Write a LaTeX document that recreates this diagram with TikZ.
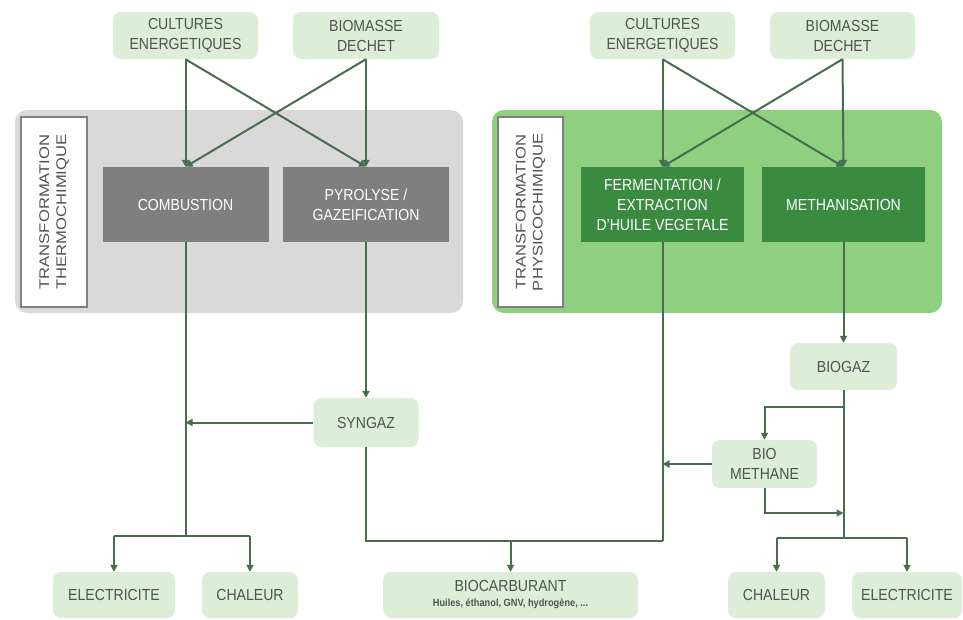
\documentclass[tikz,border=0pt]{standalone}
\usepackage{fontspec}
\setmainfont[FakeStretch=0.88]{Liberation Sans}
\usetikzlibrary{arrows.meta}
\definecolor{lightbox}{RGB}{221,238,216}
\definecolor{greypanel}{RGB}{217,217,217}
\definecolor{greybox}{RGB}{127,127,127}
\definecolor{greenpanel}{RGB}{143,208,128}
\definecolor{greenbox}{RGB}{58,138,64}
\definecolor{linecol}{RGB}{72,108,78}
\definecolor{txtcol}{RGB}{82,82,82}
\tikzset{
  x=1pt, y=-1pt,
  lbox/.style={fill=lightbox, rounded corners=8pt, inner sep=0pt, align=center,
    text=txtcol, font=\fontsize{16}{20}\selectfont},
  dgbox/.style={fill=greybox, inner sep=0pt, align=center, text=white,
    font=\fontsize{16}{20}\selectfont},
  dgreen/.style={fill=greenbox, inner sep=0pt, align=center, text=white,
    font=\fontsize{16}{20}\selectfont},
  lab/.style={fill=white, draw=greybox, line width=2pt, inner sep=0pt, align=center,
    text=txtcol, font=\fontsize{14}{18}\selectfont},
  conn/.style={draw=linecol, line width=2pt},
  arr/.style={conn, -{Triangle[length=7pt,width=7pt]}},
}
\begin{document}
\begin{tikzpicture}
\useasboundingbox (0,0) rectangle (963,619);
% panels
\fill[greypanel, rounded corners=12pt] (15,110) rectangle (463,313);
\fill[greenpanel, rounded corners=12pt] (492,110) rectangle (942,313);
\node[lab, minimum width=66pt, minimum height=190pt] (lab1) at (54,212)
  {\rotatebox{90}{\scalebox{1.35}[1]{\begin{tabular}{@{}c@{}}TRANSFORMATION\\[-1pt]THERMOCHIMIQUE\end{tabular}}}};
\node[lab, minimum width=65pt, minimum height=190pt] (lab2) at (530.5,212)
  {\rotatebox{90}{\scalebox{1.35}[1]{\begin{tabular}{@{}c@{}}TRANSFORMATION\\[-1pt]PHYSICOCHIMIQUE\end{tabular}}}};
% top sources
\node[lbox, minimum width=145pt, minimum height=47pt] (cul1) at (185.5,35.5) {CULTURES\\ENERGETIQUES};
\node[lbox, minimum width=146pt, minimum height=47pt] (bio1) at (366,35.5) {BIOMASSE\\DECHET};
\node[lbox, minimum width=145pt, minimum height=47pt] (cul2) at (662.5,35.5) {CULTURES\\ENERGETIQUES};
\node[lbox, minimum width=145pt, minimum height=47pt] (bio2) at (842.5,35.5) {BIOMASSE\\DECHET};
% processes
\node[dgbox, minimum width=166pt, minimum height=75pt] (comb) at (185.5,204.5) {COMBUSTION};
\node[dgbox, minimum width=166pt, minimum height=75pt] (pyro) at (366,204.5) {PYROLYSE /\\GAZEIFICATION};
\node[dgreen, minimum width=163pt, minimum height=75pt] (ferm) at (662.5,204.5) {FERMENTATION /\\EXTRACTION\\D'HUILE VEGETALE};
\node[dgreen, minimum width=163pt, minimum height=75pt] (meth) at (843.5,204.5) {METHANISATION};
% intermediate
\node[lbox, minimum width=105pt, minimum height=49pt] (syngaz) at (366,422.5) {SYNGAZ};
\node[lbox, minimum width=107pt, minimum height=47pt] (biogaz) at (843.5,366.5) {BIOGAZ};
\node[lbox, minimum width=105pt, minimum height=48pt] (biometh) at (764.5,464) {BIO\\METHANE};
% outputs
\node[lbox, minimum width=122pt, minimum height=46pt] (elec1) at (114,595) {ELECTRICITE};
\node[lbox, minimum width=96pt, minimum height=46pt] (chal1) at (250,595) {CHALEUR};
\node[lbox, minimum width=255pt, minimum height=46pt] (biocarb) at (510.5,595)
  {BIOCARBURANT\\[-5pt]{\fontsize{10.5}{12}\selectfont\bfseries Huiles, éthanol, GNV, hydrogène, ...}};
\node[lbox, minimum width=97pt, minimum height=46pt] (chal2) at (776.5,595) {CHALEUR};
\node[lbox, minimum width=110pt, minimum height=46pt] (elec2) at (907,595) {ELECTRICITE};
% junction coordinates
\coordinate (j1) at (185.5,536);
\coordinate (j1a) at (114,536);
\coordinate (j1b) at (250,536);
\coordinate (s1) at (185.5,422.5);
\coordinate (sb) at (366,541);
\coordinate (fb) at (662.5,541);
\coordinate (cb) at (510.5,541);
\coordinate (m1) at (662.5,464);
\coordinate (g1) at (843.5,407);
\coordinate (g1a) at (764.5,407);
\coordinate (bm1) at (764.5,513);
\coordinate (bm2) at (843.5,513);
\coordinate (j2) at (843.5,538);
\coordinate (j2a) at (776.5,538);
\coordinate (j2b) at (907,538);
% top crossing arrows
\draw[arr] (cul1.south) -- (comb.north);
\draw[arr] (cul1.south) -- (pyro.north);
\draw[arr] (bio1.south) -- (pyro.north);
\draw[arr] (bio1.south) -- (comb.north);
\draw[arr] (cul2.south) -- (ferm.north);
\draw[arr] (cul2.south) -- (meth.north);
\draw[arr] (bio2.south) -- (meth.north);
\draw[arr] (bio2.south) -- (ferm.north);
% left outputs
\draw[conn] (comb.south) -- (j1);
\draw[conn] (j1a) -- (j1b);
\draw[arr] (j1a) -- (elec1.north);
\draw[arr] (j1b) -- (chal1.north);
\draw[arr] (pyro.south) -- (syngaz.north);
\draw[arr] (syngaz.west) -- (s1);
\draw[conn] (syngaz.south) -- (sb) -- (fb);
\draw[conn] (ferm.south) -- (fb);
\draw[arr] (cb) -- (biocarb.north);
% right outputs
\draw[arr] (meth.south) -- (biogaz.north);
\draw[conn] (biogaz.south) -- (j2);
\draw[arr] (g1) -- (g1a) -- (biometh.north);
\draw[arr] (biometh.west) -- (m1);
\draw[arr] (biometh.south) -- (bm1) -- (bm2);
\draw[conn] (j2a) -- (j2b);
\draw[arr] (j2a) -- (chal2.north);
\draw[arr] (j2b) -- (elec2.north);
\end{tikzpicture}
\end{document}
